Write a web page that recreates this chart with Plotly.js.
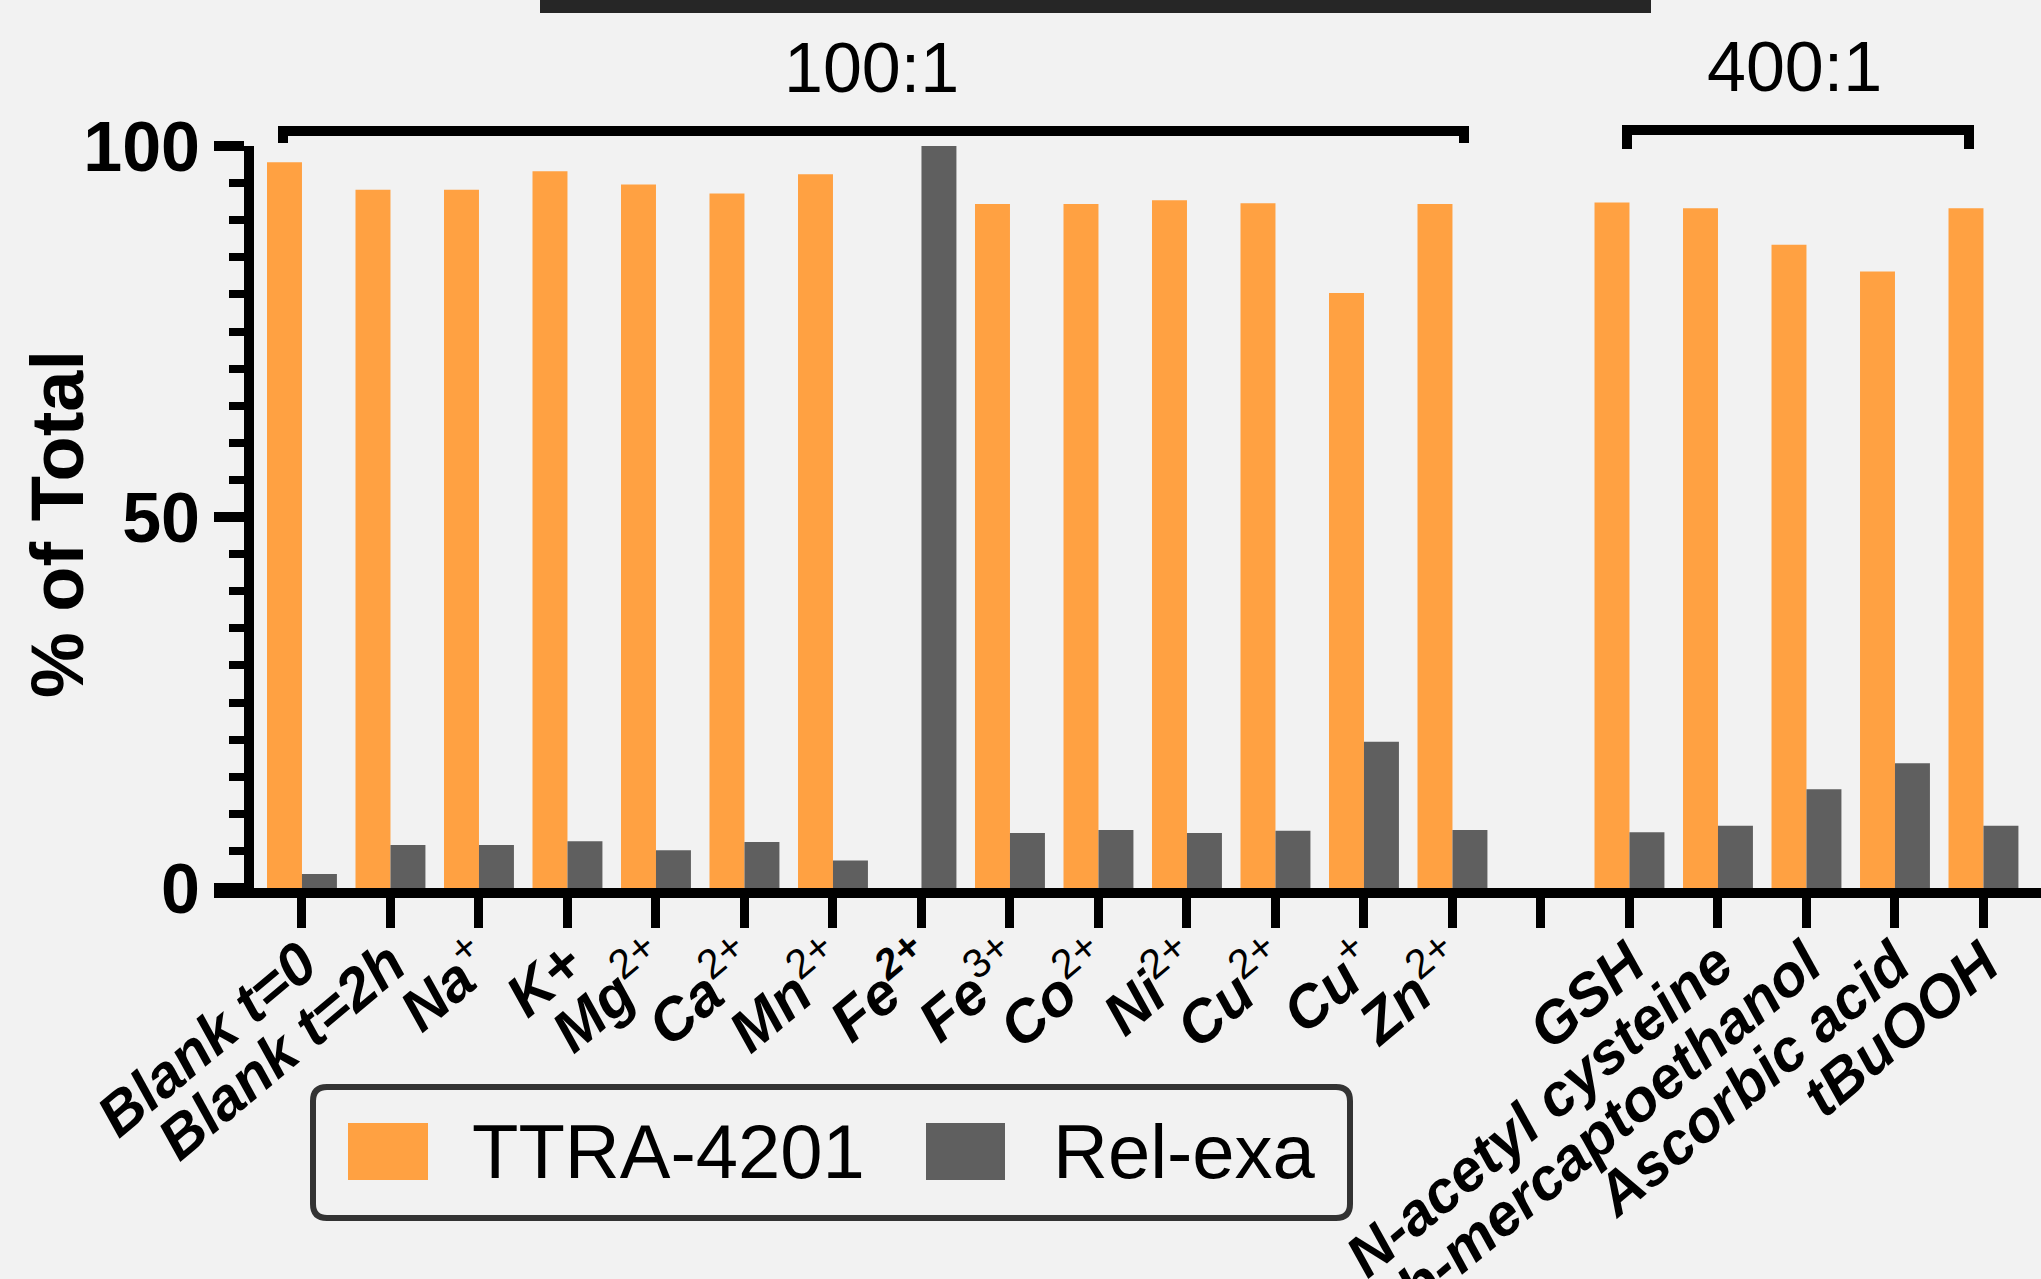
<!DOCTYPE html>
<html>
<head>
<meta charset="utf-8">
<script src="https://cdn.plot.ly/plotly-3.0.1.min.js"></script>
<style>
html,body{margin:0;padding:0;background:#f2f2f2;}
#chart{width:2041px;height:1279px;}
</style>
</head>
<body>
<div id="chart"></div>
<script>
// ---- data ----
const categories = ["Blank t=0","Blank t=2h","Na+","K+","Mg2+","Ca2+","Mn2+","Fe2+","Fe3+","Co2+","Ni2+","Cu2+","Cu+","Zn2+","","GSH","N-acetyl cysteine","b-mercaptoethanol","Ascorbic acid","tBuOOH"];
const sup = s => '<sup><span style="font-weight:normal;font-style:normal">' + s + '</span></sup>';
const tickLabels = ["Blank t=0","Blank t=2h","Na"+sup("+"),"K+","Mg"+sup("2+"),"Ca"+sup("2+"),"Mn"+sup("2+"),"Fe<sup>2+</sup>","Fe"+sup("3+"),"Co"+sup("2+"),"Ni"+sup("2+"),"Cu"+sup("2+"),"Cu"+sup("+"),"Zn"+sup("2+"),"","GSH","N-acetyl cysteine","b-mercaptoethanol","Ascorbic acid","tBuOOH"];
const ttra = [97.8,94.1,94.1,96.6,94.8,93.6,96.2,0,92.2,92.2,92.7,92.3,80.2,92.2,null,92.4,91.6,86.7,83.1,91.6];
const relexa = [1.9,5.8,5.8,6.3,5.1,6.2,3.7,100,7.4,7.8,7.4,7.7,19.7,7.8,null,7.5,8.4,13.3,16.8,8.4];
const yTicks = [0,50,100];
const seriesNames = ["TTRA-4201","Rel-exa"];
const groupLabels = ["100:1","400:1"];

// ---- layout geometry (pixels) ----
const L=254, R=2041, T=146, B=888;
const W=R-L, H=B-T;
const px = x => (x-L)/W;
const py = y => (B-y)/H;

const xpos = categories.map((c,i)=>i);
const ORANGE = '#FFA142', GRAY = '#5F5F5F';

const traces = [
  {type:'bar', name:seriesNames[0], x:xpos, y:ttra, marker:{color:ORANGE}},
  {type:'bar', name:seriesNames[1], x:xpos, y:relexa, marker:{color:GRAY}}
];

function rrect(x0,y0,x1,y1,r){
  const rx=r/W, ry=r/H;
  const a=px(x0), b=px(x1), c=py(y0), d=py(y1);
  return `M${a+rx},${c} L${b-rx},${c} Q${b},${c} ${b},${c-ry} L${b},${d+ry} Q${b},${d} ${b-rx},${d} L${a+rx},${d} Q${a},${d} ${a},${d+ry} L${a},${c-ry} Q${a},${c} ${a+rx},${c} Z`;
}

const shapes = [
  // x-axis extension to the left of the y axis
  {type:'line', xref:'paper', yref:'paper', x0:px(214), x1:px(252), y0:py(893), y1:py(893), line:{color:'black', width:10}},
  // top dark bar (cut off)
  {type:'rect', xref:'paper', yref:'paper', x0:px(540), x1:px(1651), y0:py(-5), y1:py(13), fillcolor:'#262626', line:{width:0}},
  // 100:1 bracket
  {type:'path', xref:'paper', yref:'paper', path:`M${px(283)},${py(143)} L${px(283)},${py(131)} L${px(1464)},${py(131)} L${px(1464)},${py(143)}`, line:{color:'black', width:10}},
  // 400:1 bracket
  {type:'path', xref:'paper', yref:'paper', path:`M${px(1627)},${py(149)} L${px(1627)},${py(130)} L${px(1969)},${py(130)} L${px(1969)},${py(149)}`, line:{color:'black', width:10}},
  // legend box
  {type:'path', xref:'paper', yref:'paper', path:rrect(313,1087,1350,1218,14), line:{color:'#333333', width:6}, fillcolor:'rgba(0,0,0,0)'},
  {type:'rect', xref:'paper', yref:'paper', x0:px(348), x1:px(428), y0:py(1123), y1:py(1180), fillcolor:ORANGE, line:{width:0}},
  {type:'rect', xref:'paper', yref:'paper', x0:px(926), x1:px(1005), y0:py(1123), y1:py(1180), fillcolor:GRAY, line:{width:0}}
];

const annFont = {family:'Liberation Sans, Arial, sans-serif', color:'black'};
const annotations = [
  {xref:'paper', yref:'paper', x:px(871), y:py(68), text:groupLabels[0], showarrow:false, xanchor:'center', yanchor:'middle', font:Object.assign({size:70},annFont)},
  {xref:'paper', yref:'paper', x:px(1794), y:py(67), text:groupLabels[1], showarrow:false, xanchor:'center', yanchor:'middle', font:Object.assign({size:70},annFont)},
  {xref:'paper', yref:'paper', x:px(470), y:py(1151), text:seriesNames[0], showarrow:false, xanchor:'left', yanchor:'middle', font:Object.assign({size:76},annFont)},
  {xref:'paper', yref:'paper', x:px(1051), y:py(1151), text:seriesNames[1], showarrow:false, xanchor:'left', yanchor:'middle', font:Object.assign({size:76},annFont)},
  {xref:'paper', yref:'paper', x:px(57), y:py(524), text:'% of Total', textangle:-90, showarrow:false, xanchor:'center', yanchor:'middle', font:Object.assign({size:74, weight:'bold'},annFont)}
];

const layout = {
  width:2041, height:1279,
  paper_bgcolor:'#f2f2f2', plot_bgcolor:'#f2f2f2',
  margin:{l:L, r:2041-R, t:T, b:1279-B, pad:0},
  barmode:'group', bargap:0.21, bargroupgap:0,
  showlegend:false,
  xaxis:{
    range:[-0.542,19.65], tickmode:'array', tickvals:xpos, ticktext:tickLabels,
    showline:true, linecolor:'black', linewidth:10,
    ticks:'outside', ticklen:30, tickwidth:9, tickcolor:'black',
    tickangle:-40, ticklabelstandoff:-22, showgrid:false, zeroline:false,
    tickfont:{family:'Liberation Sans, Arial, sans-serif', size:59, color:'black', weight:'bold', style:'italic'},
    automargin:false
  },
  yaxis:{
    range:[0,100], tickmode:'array', tickvals:yTicks,
    showline:true, linecolor:'black', linewidth:10,
    ticks:'outside', ticklen:30, tickwidth:10, tickcolor:'black',
    minor:{dtick:5, tick0:0, ticks:'outside', ticklen:15, tickwidth:8, tickcolor:'black', showgrid:false},
    showgrid:false, zeroline:false,
    tickfont:{family:'Liberation Sans, Arial, sans-serif', size:70, color:'black', weight:'bold'},
    automargin:false
  },
  shapes:shapes, annotations:annotations
};

Plotly.newPlot('chart', traces, layout, {displayModeBar:false, staticPlot:true});
</script>
</body>
</html>
